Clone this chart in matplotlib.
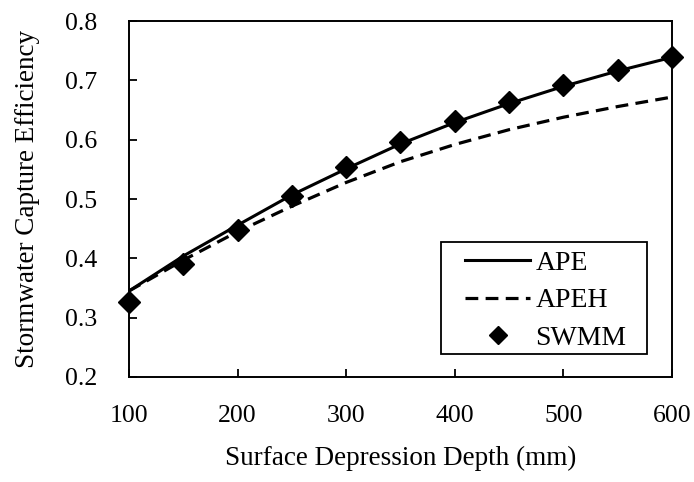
import matplotlib
matplotlib.use("Agg")
import matplotlib.pyplot as plt
from matplotlib.patches import Rectangle

# depth (mm) and capture efficiency
depth = [100, 150, 200, 250, 300, 350, 400, 450, 500, 550, 600]
ape = [0.345, 0.404, 0.456, 0.507, 0.551, 0.593, 0.629, 0.661, 0.690, 0.716, 0.739]
apeh = [0.345, 0.397, 0.445, 0.488, 0.528, 0.563, 0.592, 0.617, 0.638, 0.656, 0.672]
swmm = [0.326, 0.390, 0.448, 0.506, 0.554, 0.597, 0.632, 0.664, 0.692, 0.718, 0.739]

xticks = [100, 200, 300, 400, 500, 600]
yticks = [0.2, 0.3, 0.4, 0.5, 0.6, 0.7, 0.8]

plt.rcParams["font.family"] = ["Liberation Serif", "DejaVu Serif"]

fig = plt.figure(figsize=(6.94, 4.82), dpi=100)
ax = fig.add_axes([0.186, 0.218, 0.782, 0.738])

ax.plot(depth, ape, color="black", lw=2.2, label="APE", zorder=3)
ax.plot(depth, apeh, color="black", lw=2.3, ls=(0, (4, 2.3)), label="APEH", zorder=3)
ax.plot(depth, swmm, ls="none", marker="D", color="black", markersize=11,
        label="SWMM", zorder=4, clip_on=False)

ax.set_xlim(100, 600)
ax.set_ylim(0.2, 0.8)
ax.set_xticks(xticks)
ax.set_yticks(yticks)
ax.set_yticklabels([f"{v:.1f}" for v in yticks])
ax.tick_params(direction="in", length=6, width=1.3, labelsize=18.5, colors="black")
ax.tick_params(axis="x", pad=20)
ax.tick_params(axis="y", pad=23)
for s in ax.spines.values():
    s.set_linewidth(1.4)

ax.set_xlabel("Surface Depression Depth (mm)", fontsize=19.5, labelpad=14)
ax.set_ylabel("Stormwater Capture Efficiency", fontsize=19.5, labelpad=18)

# legend without its own frame, box drawn separately (wider side padding)
leg = ax.legend(loc="upper left", bbox_to_anchor=(0.619, 0.355), borderaxespad=0,
                fontsize=20, handlelength=2.35, frameon=False, labelspacing=0.43,
                handletextpad=0.18, borderpad=0)
leg.legend_handles[2].set_markersize(9)
ax.add_patch(Rectangle((0.5746, 0.0646), 0.3794, 0.3146, transform=ax.transAxes,
                       fill=False, edgecolor="black", lw=1.3, zorder=5))

fig.savefig("out.png", dpi=100)
